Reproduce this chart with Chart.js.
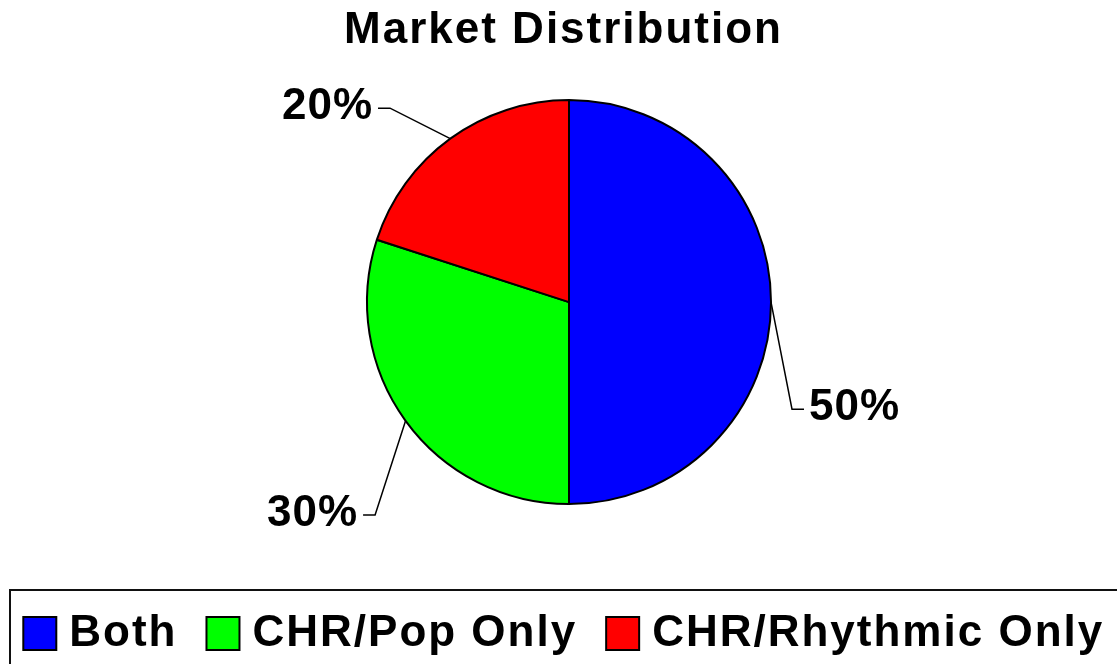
<!DOCTYPE html>
<html>
<head>
<meta charset="utf-8">
<script src="https://cdn.jsdelivr.net/npm/chart.js@4/dist/chart.umd.min.js"></script>
<style>
  html, body { margin: 0; padding: 0; background: #ffffff; }
  #wrap { width: 1117px; height: 664px; }
</style>
</head>
<body>
<div id="wrap"><canvas id="c" width="1117" height="664"></canvas></div>
<script>
// ---- data ----
const categories = ['Both', 'CHR/Pop Only', 'CHR/Rhythmic Only'];
const shares = [50, 30, 20];
const sliceColors = ['#0000FF', '#00FF00', '#FF0000'];
const chartTitle = 'Market Distribution';

const FONT = '"Liberation Sans", Arial, Helvetica, sans-serif';

// layout adjustments (tracking of text, centre of pie, legend spread)
const layoutTweaks = {
  id: 'layoutTweaks',
  beforeLayout(chart) { chart.ctx.letterSpacing = '0px'; },
  afterLayout(chart, args, o) {
    chart.ctx.letterSpacing = o.letterSpacing;
    const lg = chart.legend;
    const top = lg.top;
    lg.update(o.legendRight - o.legendLeft, lg.maxHeight, { left: 0, top: 0, right: 0, bottom: 0 });
    lg.left = o.legendLeft;
    lg.right = o.legendRight;
    lg.top = top + o.legendDy;
    lg.bottom = lg.top + lg.height;
    const ca = chart.chartArea;
    chart.chartArea = {
      left: ca.left + o.pieDx, right: ca.right + o.pieDx,
      top: ca.top, bottom: ca.bottom,
      width: ca.width, height: ca.height
    };
    const tb = chart.titleBlock;
    if (tb) { tb.left += o.titleDx; tb.right += o.titleDx; }
  },
  beforeDraw(chart, args, o) { chart.ctx.letterSpacing = o.letterSpacing; }
};

// leader-line labels (elbow positions in units of pie radius, relative to centre)
const pieLabels = {
  id: 'pieLabels',
  afterDatasetsDraw(chart, args, opts) {
    const ctx = chart.ctx;
    const meta = chart.getDatasetMeta(0);
    const data = chart.data.datasets[0].data;
    const total = data.reduce((a, b) => a + b, 0);
    meta.data.forEach((arc, i) => {
      const p = arc.getProps(['x', 'y', 'startAngle', 'endAngle', 'outerRadius'], true);
      const mid = (p.startAngle + p.endAngle) / 2;
      const ex = p.x + Math.cos(mid) * p.outerRadius;
      const ey = p.y + Math.sin(mid) * p.outerRadius;
      const el = opts.elbows[i];
      const bx = p.x + el[0] * p.outerRadius;
      const by = p.y + el[1] * p.outerRadius;
      const side = el[0] > 0 ? 1 : -1;
      const hx = bx + side * opts.tail;
      ctx.save();
      ctx.letterSpacing = opts.letterSpacing;
      ctx.strokeStyle = '#000';
      ctx.lineWidth = 1.5;
      ctx.beginPath();
      ctx.moveTo(ex, ey);
      ctx.lineTo(bx, by);
      ctx.lineTo(hx, by);
      ctx.stroke();
      ctx.font = 'bold 44px ' + FONT;
      ctx.fillStyle = '#000';
      ctx.textBaseline = 'middle';
      ctx.textAlign = side > 0 ? 'left' : 'right';
      ctx.fillText(Math.round(data[i] / total * 100) + '%', hx + side * opts.gap, by + opts.dy);
      ctx.restore();
    });
  }
};

// frame around the legend
const legendFrame = {
  id: 'legendFrame',
  afterDraw(chart, args, opts) {
    const ctx = chart.ctx;
    const lg = chart.legend;
    ctx.save();
    ctx.strokeStyle = '#111';
    ctx.lineWidth = 2;
    ctx.strokeRect(opts.left, lg.top + opts.topOffset, chart.width + 100, 200);
    ctx.restore();
  }
};

new Chart(document.getElementById('c'), {
  type: 'pie',
  data: {
    labels: categories,
    datasets: [{
      data: shares,
      backgroundColor: sliceColors,
      borderColor: '#000',
      borderWidth: 2,
      hoverOffset: 0,
      radius: 202
    }]
  },
  options: {
    responsive: false,
    animation: false,
    devicePixelRatio: 1,
    layout: { padding: 0 },
    plugins: {
      tooltip: { enabled: false },
      title: {
        display: true,
        text: chartTitle,
        color: '#000',
        font: { family: FONT, size: 44, weight: 'bold', lineHeight: 0.05 },
        padding: { top: 30, bottom: 0 }
      },
      legend: {
        display: true,
        position: 'bottom',
        labels: {
          usePointStyle: true,
          pointStyle: 'rect',
          boxWidth: 15,
          boxHeight: 33,
          padding: 38,
          color: '#000',
          font: { family: FONT, size: 44, weight: 'bold' }
        }
      },
      layoutTweaks: {
        letterSpacing: '2px',
        legendLeft: -13.5,
        legendRight: 1150,
        legendDy: 1.5,
        pieDx: 10.5,
        titleDx: 5
      },
      pieLabels: {
        elbows: [[1.104, 0.530], [-0.960, 1.054], [-0.886, -0.960]],
        tail: 12,
        gap: 5,
        dy: -1,
        letterSpacing: '1px'
      },
      legendFrame: { left: 10, topOffset: 16.5 }
    }
  },
  plugins: [layoutTweaks, pieLabels, legendFrame]
});
</script>
</body>
</html>
